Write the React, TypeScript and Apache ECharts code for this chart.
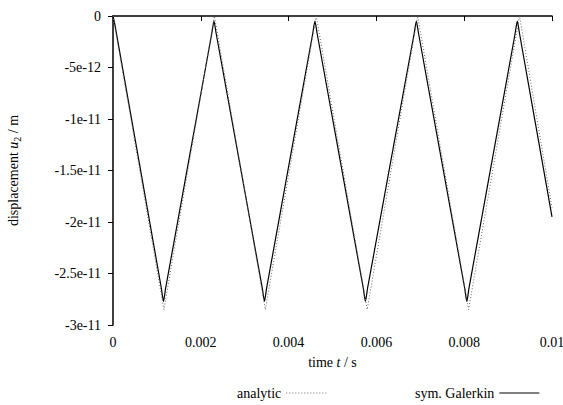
import React, { useEffect, useRef } from "react";
import * as echarts from "echarts";

// time t [s], displacement u2 [m]
const analyticT = [0, 0.00116, 0.00231, 0.00347, 0.00463, 0.00579, 0.00694, 0.0081, 0.00926, 0.01];
const analyticU = [0, -2.85e-11, 0, -2.85e-11, 0, -2.85e-11, 0, -2.85e-11, 0, -1.86e-11];

const galerkinT = [
  0, 0.00005, 0.0011, 0.00115, 0.0012, 0.00225, 0.0023, 0.00235,
  0.0034, 0.00345, 0.0035, 0.00455, 0.0046, 0.00465,
  0.0057, 0.00575, 0.0058, 0.00686, 0.00691, 0.00696,
  0.00801, 0.00806, 0.00811, 0.00916, 0.00921, 0.00926, 0.01,
];
const galerkinU = [
  0, -0.1e-11, -2.64e-11, -2.77e-11, -2.64e-11, -0.17e-11, -0.05e-11, -0.17e-11,
  -2.64e-11, -2.77e-11, -2.64e-11, -0.17e-11, -0.05e-11, -0.17e-11,
  -2.64e-11, -2.77e-11, -2.64e-11, -0.17e-11, -0.05e-11, -0.17e-11,
  -2.64e-11, -2.77e-11, -2.64e-11, -0.17e-11, -0.05e-11, -0.17e-11, -1.95e-11,
];

const xTickLabels = ["0", "0.002", "0.004", "0.006", "0.008", "0.01"];
const yTickLabels = ["-3e-11", "-2.5e-11", "-2e-11", "-1.5e-11", "-1e-11", "-5e-12", "0"];

const FONT = "Liberation Serif";

export default function App() {
  const ref = useRef<HTMLDivElement>(null);
  useEffect(() => {
    if (!ref.current) return;
    const chart = echarts.init(ref.current, undefined, { renderer: "svg" });
    const axisText = { color: "#000", fontFamily: FONT, fontSize: 14 };
    chart.setOption({
      animation: false,
      backgroundColor: "#fff",
      textStyle: { fontFamily: FONT },
      grid: { left: 113, right: 11, top: 16, bottom: 80, containLabel: false, outerBoundsMode: "none" },
      xAxis: {
        type: "value",
        min: 0,
        max: 0.01,
        interval: 0.002,
        name: "time {i|t} / s",
        nameLocation: "middle",
        nameGap: 30,
        nameTextStyle: {
          ...axisText,
          rich: { i: { ...axisText, fontStyle: "italic" } },
        },
        axisLine: { show: true, lineStyle: { color: "#000", width: 1.5 } },
        axisTick: { show: true, length: 5, inside: false, lineStyle: { color: "#000" } },
        splitLine: { show: false },
        axisLabel: {
          ...axisText,
          margin: 10,
          formatter: (v: number) => xTickLabels[Math.round(v / 0.002)] ?? "",
        },
      },
      yAxis: {
        type: "value",
        min: -3e-11,
        max: 0,
        interval: 5e-12,
        name: "displacement {i|u}{s|2} / m",
        nameLocation: "middle",
        nameGap: 91,
        nameRotate: 90,
        nameTextStyle: {
          ...axisText,
          rich: {
            i: { ...axisText, fontStyle: "italic" },
            s: { ...axisText, fontSize: 10, padding: [7, 0, 0, 0] },
          },
        },
        axisLine: { show: true, lineStyle: { color: "#000", width: 1.5 } },
        axisTick: { show: true, length: 5, inside: false, lineStyle: { color: "#000" } },
        splitLine: { show: false },
        axisLabel: {
          ...axisText,
          margin: 12,
          formatter: (v: number) => yTickLabels[Math.round((v + 3e-11) / 5e-12)] ?? "",
        },
      },
      legend: [
        {
          data: ["analytic"],
          left: 237,
          top: 386,
          padding: 0,
          align: "right",
          itemWidth: 40,
          itemHeight: 14,
          itemStyle: { opacity: 0 },
          lineStyle: { width: 1 },
          textStyle: { ...axisText },
        },
        {
          data: ["sym. Galerkin"],
          left: 415,
          top: 386,
          padding: 0,
          align: "right",
          itemWidth: 40,
          itemHeight: 14,
          itemStyle: { opacity: 0 },
          lineStyle: { width: 1 },
          textStyle: { ...axisText },
        },
      ],
      series: [
        {
          name: "analytic",
          type: "line",
          data: analyticT.map((t, i) => [t, analyticU[i]]),
          showSymbol: false,
          symbol: "none",
          lineStyle: { color: "#666", width: 1, type: [1, 2] },
          itemStyle: { color: "#666" },
          z: 3,
        },
        {
          name: "sym. Galerkin",
          type: "line",
          data: galerkinT.map((t, i) => [t, galerkinU[i]]),
          showSymbol: false,
          symbol: "none",
          smooth: 0.2,
          lineStyle: { color: "#000", width: 1.2 },
          itemStyle: { color: "#000" },
          z: 2,
        },
      ],
    });
    return () => chart.dispose();
  }, []);
  return <div ref={ref} style={{ width: 563, height: 405, position: "absolute", left: 0, top: 0 }} />;
}
